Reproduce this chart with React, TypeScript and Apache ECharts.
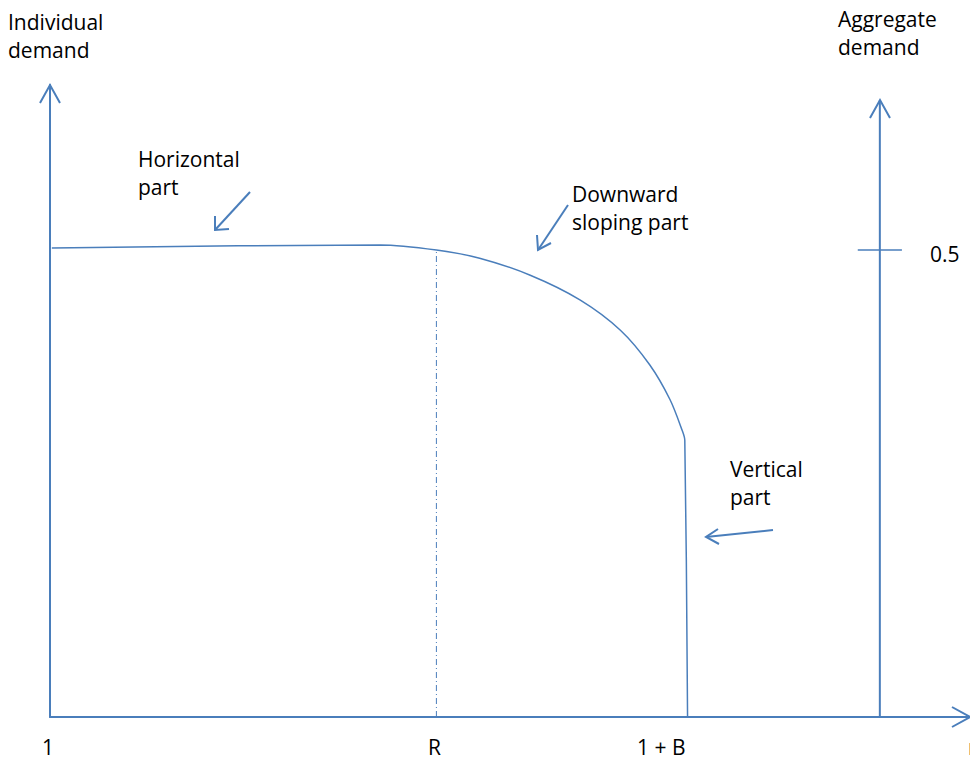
import { useRef, useEffect } from "react";
import * as echarts from "echarts";

const BLUE = "#4a7ebb";

// demand curve in chart units (x: 0..100 across the grid, y: 0..100 up the grid)
const curveX = [0.2, 35.9, 42, 46.7, 52.2, 57.6, 62, 65.2, 67.4, 68.7, 69, 69.3];
const curveY = [74.2, 74.7, 73.9, 72.6, 69.9, 66, 61.2, 55.7, 50.2, 45.4, 43.8, 0];
const rX = 42;
const aggX = 90.2;
const aggTop = 97.6;
const halfY = 73.9;

const xLabels = [
  { text: "1", x: 42 },
  { text: "R", x: 428 },
  { text: "1 + B", x: 637 },
  { text: "r", x: 968 },
];

export default function App() {
  const ref = useRef<HTMLDivElement>(null);

  useEffect(() => {
    if (!ref.current) return;
    const chart = echarts.init(ref.current, null, { renderer: "svg" });
    const font = "Open Sans, Liberation Sans, sans-serif";
    const txt = (text: string, x: number, y: number, lh = 28) => ({
      type: "text",
      x,
      y,
      style: { text, fill: "#000", font: `21px ${font}`, lineHeight: lh },
    });
    const pl = (points: number[][]) => ({
      type: "polyline",
      shape: { points },
      style: { stroke: BLUE, lineWidth: 2, fill: "none" },
    });
    chart.setOption({
      animation: false,
      grid: { left: 50, right: 8, top: 85, bottom: 52 },
      xAxis: {
        type: "value", min: 0, max: 100,
        axisLine: { show: true, lineStyle: { color: BLUE, width: 2 } },
        axisTick: { show: false }, axisLabel: { show: false }, splitLine: { show: false },
      },
      yAxis: {
        type: "value", min: 0, max: 100,
        axisLine: { show: true, lineStyle: { color: BLUE, width: 2 } },
        axisTick: { show: false }, axisLabel: { show: false }, splitLine: { show: false },
      },
      series: [
        {
          type: "line", symbol: "none", smooth: 0.3,
          data: curveX.map((x, i) => [x, curveY[i]]),
          lineStyle: { color: BLUE, width: 1.5 },
        },
        {
          type: "line", symbol: "none",
          data: [[rX, 0], [rX, halfY]],
          lineStyle: { color: BLUE, width: 1, type: [6, 3, 1, 3] },
        },
        {
          type: "line", symbol: "none",
          data: [[aggX, 0], [aggX, aggTop]],
          lineStyle: { color: BLUE, width: 2 },
        },
        {
          type: "line", symbol: "none",
          data: [[aggX - 2.4, halfY], [aggX + 2.4, halfY]],
          lineStyle: { color: BLUE, width: 1.5 },
        },
      ],
      graphic: [
        txt("Individual\ndemand", 8, 8),
        txt("Aggregate\ndemand", 838, 5),
        txt("Horizontal\npart", 138, 145),
        txt("Downward\nsloping part", 572, 180),
        txt("Vertical\npart", 730, 455),
        txt("0.5", 930, 240),
        ...xLabels.map((l) => txt(l.text, l.x, 736, 22)),
        pl([[40, 103], [50, 85], [60, 103]]),
        pl([[870, 118], [880, 100], [890, 118]]),
        pl([[952, 707], [970, 717], [952, 727]]),
        pl([[250, 192], [215, 230]]),
        pl([[215, 216], [215, 230], [229, 229]]),
        pl([[568, 205], [538, 250]]),
        pl([[537, 235], [538, 250], [551, 243]]),
        pl([[773, 530], [706, 537]]),
        pl([[718, 529], [706, 537], [719, 544]]),
      ],
    });
    return () => chart.dispose();
  }, []);

  return <div ref={ref} style={{ width: 978, height: 769, margin: -8 }} />;
}
